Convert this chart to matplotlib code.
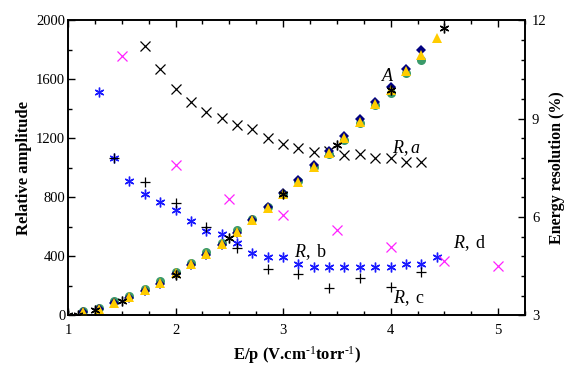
import matplotlib
matplotlib.use("Agg")
import matplotlib.pyplot as plt
from matplotlib.ticker import MultipleLocator

plt.rcParams['font.family'] = ['Liberation Serif', 'DejaVu Serif']
plt.rcParams['mathtext.fontset'] = 'custom'
plt.rcParams['mathtext.rm'] = 'Liberation Serif'
plt.rcParams['mathtext.it'] = 'Liberation Serif:italic'
plt.rcParams['mathtext.bf'] = 'Liberation Serif:bold'

# ---- amplitude data (left axis) ----
amp_x = [1.143, 1.286, 1.429, 1.571, 1.714, 1.857, 2.0, 2.143, 2.286, 2.429, 2.571, 2.714,
         2.857, 3.0, 3.143, 3.286, 3.429, 3.571, 3.714, 3.857, 4.0, 4.143, 4.286, 4.429]
amp_tri = [26, 44, 87, 125, 173, 222, 286, 347, 419, 483, 568, 647,
           727, 822, 907, 1009, 1100, 1201, 1314, 1434, 1529, 1655, 1766, 1879]
amp_circ = [30, 48, 95, 130, 182, 230, 296, 352, 428, 490, 578, 652,
            735, 825, 910, 1005, 1095, 1190, 1305, 1425, 1511, 1645, 1732]
amp_diam = [22, 40, 82, 120, 168, 216, 280, 340, 412, 478, 560, 645,
            735, 830, 918, 1022, 1112, 1215, 1330, 1450, 1551, 1672, 1800]
amp_A_x = [1.0, 1.09, 1.25, 1.5, 2.0, 2.5, 3.0, 3.5, 4.0, 4.5]
amp_A = [3, 5, 37, 98, 275, 523, 822, 1156, 1530, 1951]

# ---- energy resolution data (right axis) ----
ra_x = [1.714, 1.857, 2.0, 2.143, 2.286, 2.429, 2.571, 2.714, 2.857, 3.0,
        3.143, 3.286, 3.429, 3.571, 3.714, 3.857, 4.0, 4.143, 4.286]
ra = [11.23, 10.51, 9.92, 9.50, 9.22, 9.02, 8.81, 8.70, 8.41, 8.22,
      8.10, 8.00, 8.03, 7.90, 7.93, 7.80, 7.80, 7.69, 7.69]
rb_x = [1.286, 1.429, 1.571, 1.714, 1.857, 2.0, 2.143, 2.286, 2.429, 2.571, 2.714, 2.857,
        3.0, 3.143, 3.286, 3.429, 3.571, 3.714, 3.857, 4.0, 4.143, 4.286, 4.429]
rb = [9.81, 7.81, 7.11, 6.70, 6.47, 6.22, 5.89, 5.58, 5.48, 5.21, 4.89, 4.78,
      4.78, 4.57, 4.48, 4.47, 4.47, 4.47, 4.47, 4.47, 4.56, 4.56, 4.78]
rc_x = [1.429, 1.714, 2.0, 2.286, 2.571, 2.857, 3.143, 3.429, 3.714, 4.0, 4.286]
rc = [7.81, 7.06, 6.42, 5.69, 5.07, 4.42, 4.27, 3.83, 4.13, 3.86, 4.31]
rd_x = [1.5, 2.0, 2.5, 3.0, 3.5, 4.0, 4.5, 5.0]
rd = [10.92, 7.59, 6.55, 6.07, 5.59, 5.10, 4.66, 4.52]

fig = plt.figure(figsize=(5.67, 3.65), dpi=100)
ax = fig.add_axes([0.12, 0.136, 0.806, 0.808])
ax2 = ax.twinx()

star = (6, 2, 0)

# right-axis series
ax2.plot(ra_x, ra, linestyle='none', marker='x', color='black', ms=6.5, mew=0.9)
ax2.plot(rb_x, rb, linestyle='none', marker=star, color='#1a1aff', ms=7, mew=1.0)
ax2.plot(rc_x, rc, linestyle='none', marker='+', color='black', ms=7, mew=0.9)
ax2.plot(rd_x, rd, linestyle='none', marker='x', color='#ff22ff', ms=7, mew=0.9)

# left-axis series (drawn on top)
ax.set_zorder(ax2.get_zorder() + 1)
ax.patch.set_visible(False)
ax.plot(amp_x[:len(amp_circ)], amp_circ, linestyle='none', marker='o', color='#3a9a6a', ms=6.5, mew=0)
ax.plot(amp_x[:len(amp_diam)], amp_diam, linestyle='none', marker='D', color='#000080', ms=5.5, mew=0)
ax.plot(amp_x, amp_tri, linestyle='none', marker='^', color='#ffcc00', ms=7.5, mew=0)
ax.plot(amp_A_x, amp_A, linestyle='none', marker=star, color='black', ms=7, mew=1.0)

ax.set_xlim(1, 5.25)
ax.set_ylim(0, 2000)
ax2.set_ylim(3, 12)

ax.xaxis.set_major_locator(MultipleLocator(1))
ax.xaxis.set_minor_locator(MultipleLocator(0.25))
ax.yaxis.set_major_locator(MultipleLocator(400))
ax.yaxis.set_minor_locator(MultipleLocator(200))
ax2.yaxis.set_major_locator(MultipleLocator(3))
ax2.yaxis.set_minor_locator(MultipleLocator(0.6))

ax.tick_params(axis='x', which='both', direction='in', top=True, labelsize=10.5, pad=6)
ax.tick_params(axis='y', which='both', direction='in', left=True, right=False, labelsize=10.5, pad=2)
ax.tick_params(which='major', length=5, width=1)
ax.tick_params(which='minor', length=3, width=1)
ax2.tick_params(axis='y', which='both', direction='in', labelsize=10.5, pad=5)
ax2.tick_params(which='major', length=5, width=1)
ax2.tick_params(which='minor', length=3, width=1)

for a in (ax, ax2):
    for s in a.spines.values():
        s.set_linewidth(1.2)

ax.set_xlabel('E/p (V.cm$^{\\text{-1}}$torr$^{\\text{-1}}$)', fontsize=12, fontweight='bold', labelpad=5)
ax.set_ylabel('Relative amplitude', fontsize=12, fontweight='bold', labelpad=3)
ax2.set_ylabel('Energy resolution (%)', fontsize=11.5, fontweight='bold', labelpad=2)

tk = dict(fontsize=13)
ax.text(3.97, 1620, 'A', style='italic', ha='center', va='center', **tk)
ax2.text(4.01, 8.1, '$\\mathit{R, a}$', ha='left', va='center', **tk)
ax2.text(3.1, 4.92, '$\\mathit{R},$ b', ha='left', va='center', **tk)
ax2.text(4.02, 3.53, '$\\mathit{R},$ c', ha='left', va='center', **tk)
ax2.text(4.58, 5.2, '$\\mathit{R},$ d', ha='left', va='center', **tk)

fig.savefig('out.png', dpi=100)
